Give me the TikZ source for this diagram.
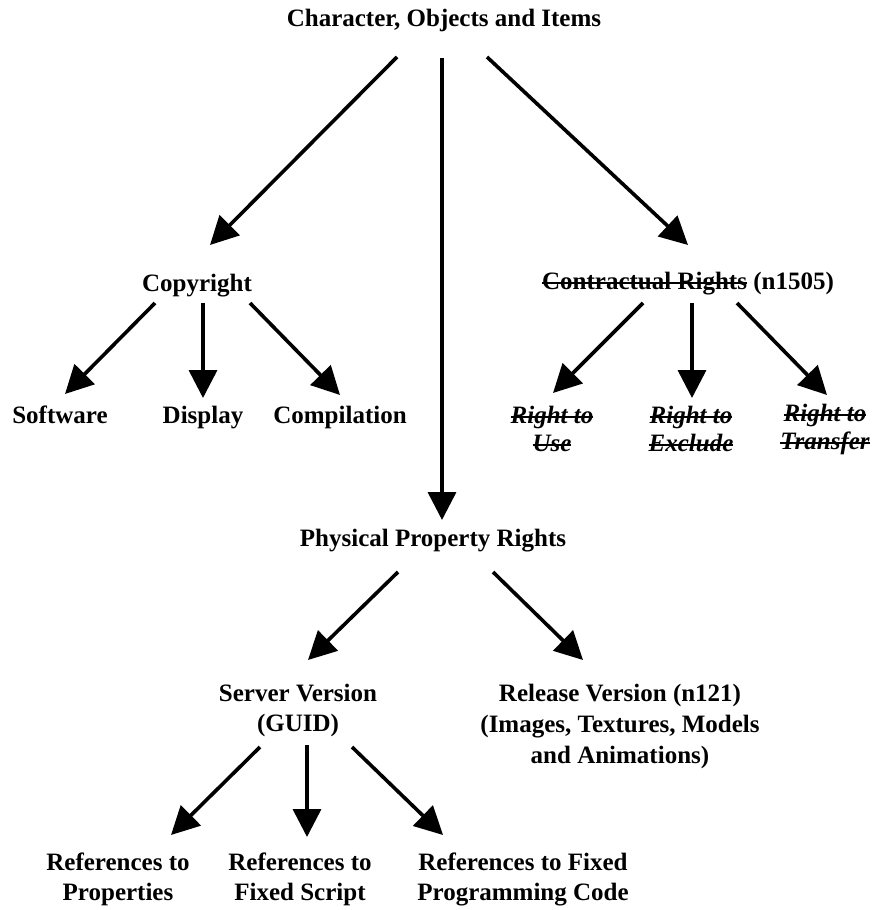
\documentclass[tikz,border=0pt]{standalone}
\usepackage{fontspec}
\setmainfont{Liberation Serif}
\usepackage{tikz}
\usetikzlibrary{arrows.meta,calc}
\newsavebox{\strkbox}
\newcommand{\strk}[1]{\sbox{\strkbox}{#1}\rlap{\rule[0.45ex]{\wd\strkbox}{1pt}}\usebox{\strkbox}}

\begin{document}
\begin{tikzpicture}[x=0.5pt,y=-0.5pt,
		lbl/.style={align=center,inner sep=0pt,font=\bfseries\fontsize{12.5}{15}\selectfont},
		one/.style={lbl,text height=0.8em,text depth=0pt},
		arr/.style={line width=1.8pt,-{Triangle[length=14pt,width=14pt]}}]
		\useasboundingbox (0,0) rectangle (877,910);

		\node[one] (items) at (444,18) {Character, Objects and Items};
		\node[one] (copy) at (197,283) {Copyright};
		\node[one] (contr) at (688,281) {\strk{Contractual Rights} (n1505)};
		\node[one] (soft) at (60,415) {Software};
		\node[one] (disp) at (203,415) {Display};
		\node[one] (comp) at (340,415) {Compilation};
		\node[lbl,font=\bfseries\itshape\fontsize{12.5}{14}\selectfont] (use) at (552,429) {\strk{Right to}\\\strk{Use}};
		\node[lbl,font=\bfseries\itshape\fontsize{12.5}{14}\selectfont] (excl) at (691,429) {\strk{Right to}\\\strk{Exclude}};
		\node[lbl,font=\bfseries\itshape\fontsize{12.5}{14}\selectfont] (trans) at (825,429) {\strk{Right to}\\\strk{Transfer}};
		\node[one] (phys) at (433,538) {Physical Property Rights};
		\node[lbl] (server) at (298,710) {Server Version\\(GUID)};
		\node[lbl,font=\bfseries\fontsize{12.5}{15.5}\selectfont] (release) at (620,726) {Release Version (n121)\\(Images, Textures, Models\\and Animations)};
		\node[lbl] (refprop) at (118,879) {References to\\Properties};
		\node[lbl] (refscript) at (300,879) {References to\\Fixed Script};
		\node[lbl] (refcode) at (523,879) {References to Fixed\\Programming Code};

		\draw[arr] ($(items)+(-47,39)$) -- ($(copy)+(13,-38)$);
		\draw[arr] ($(items)+(-2,40)$) -- ($(phys)+(9,-18)$);
		\draw[arr] ($(items)+(43,39)$) -- ($(contr)+(0,-36)$);

		\draw[arr] ($(copy)+(-42,20)$) -- ($(soft)+(5,-21)$);
		\draw[arr] ($(copy)+(6,20)$) -- ($(disp)+(0,-17)$);
		\draw[arr] ($(copy)+(53,20)$) -- ($(comp)+(0,-20)$);

		\draw[arr] ($(contr)+(-45,22)$) -- ($(use)+(1,-36)$);
		\draw[arr] ($(contr)+(4,22)$) -- ($(excl)+(1,-31)$);
		\draw[arr] ($(contr)+(49,22)$) -- ($(trans)+(2,-34)$);

		\draw[arr] ($(phys)+(-35,34)$) -- ($(server)+(10,-50)$);
		\draw[arr] ($(phys)+(60,34)$) -- ($(release)+(-37,-66)$);

		\draw[arr] ($(server)+(-38,37)$) -- ($(refprop)+(53,-44)$);
		\draw[arr] ($(server)+(9,35)$) -- ($(refscript)+(7,-42)$);
		\draw[arr] ($(server)+(54,37)$) -- ($(refcode)+(-80,-44)$);
	\end{tikzpicture}
\end{document}
